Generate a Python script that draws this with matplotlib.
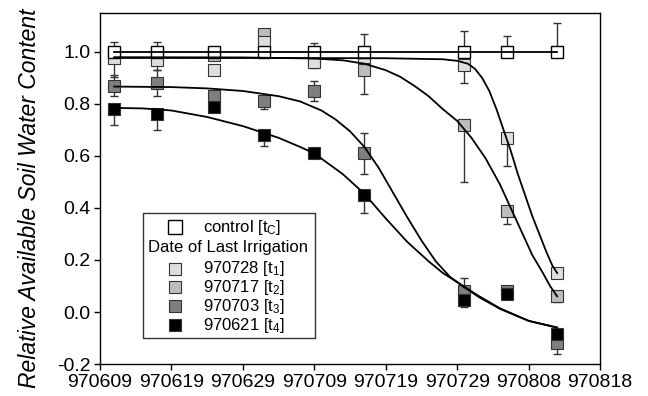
import numpy as np
import matplotlib.pyplot as plt
import matplotlib.dates as mdates
from matplotlib.patches import Rectangle

plt.rcParams['font.family'] = ['Liberation Sans', 'DejaVu Sans']
plt.rcParams['mathtext.default'] = 'regular'

# sampling dates
dates = np.array(['1997-06-11', '1997-06-17', '1997-06-25', '1997-07-02', '1997-07-09',
                  '1997-07-16', '1997-07-30', '1997-08-05', '1997-08-12'], dtype='datetime64[D]')

# measured values (relative available soil water content)
ctrl = [1.00, 1.00, 1.00, 1.00, 1.00, 1.00, 1.00, 1.00, 1.00]
ctrl_up = [0.04, 0.04, 0.02, 0.0, 0.035, 0.07, 0.08, 0.06, 0.11]
t1 = [0.975, 0.97, 0.93, 1.04, 0.96, 0.98, 0.95, 0.67, 0.15]
t1_lo = [0.07, 0.04, 0.02, 0.0, 0.02, 0.0, 0.07, 0.11, 0.0]
t2 = [0.995, 0.99, 0.99, 1.07, 0.97, 0.93, 0.72, 0.39, 0.06]
t2_lo = [0.0, 0.0, 0.0, 0.0, 0.0, 0.09, 0.22, 0.05, 0.02]
t3 = [0.87, 0.88, 0.83, 0.81, 0.85, 0.61, 0.08, 0.08, -0.12]
t3_lo = [0.04, 0.05, 0.0, 0.03, 0.04, 0.08, 0.0, 0.02, 0.04]
t3_up = [0.04, 0.05, 0.02, 0.0, 0.04, 0.08, 0.05, 0.02, 0.0]
t4 = [0.78, 0.76, 0.79, 0.68, 0.61, 0.45, 0.045, 0.07, -0.085]
t4_lo = [0.06, 0.06, 0.0, 0.04, 0.0, 0.07, 0.025, 0.0, 0.0]

# fitted curves (days after 970609)
c1_day = [2, 20, 40, 48, 50, 51.5, 52.5, 53.5, 54.5, 55.5, 56.5, 57.5, 58.5, 59.5, 60.5, 61.5, 62.5, 63.3, 64]
c1_val = [0.977, 0.977, 0.976, 0.972, 0.966, 0.955, 0.935, 0.90, 0.85, 0.78, 0.70, 0.62, 0.53, 0.45, 0.37, 0.30, 0.23, 0.18, 0.15]
c2_day = [2, 20, 30, 34, 37, 40, 42, 44, 46, 48, 50, 52, 54, 56, 57.5, 59, 60.5, 62, 63, 64]
c2_val = [0.98, 0.979, 0.975, 0.968, 0.955, 0.93, 0.905, 0.87, 0.83, 0.78, 0.735, 0.67, 0.59, 0.49, 0.40, 0.31, 0.22, 0.15, 0.10, 0.06]
c3_day = [2, 10, 15, 20, 25, 28, 31, 33, 35, 37, 39, 41, 43, 45, 47, 49, 51, 53, 56, 60, 64]
c3_val = [0.867, 0.865, 0.86, 0.85, 0.83, 0.81, 0.775, 0.74, 0.695, 0.635, 0.555, 0.46, 0.365, 0.275, 0.195, 0.135, 0.095, 0.058, 0.012, -0.034, -0.06]
c4_day = [2, 6, 10, 15, 20, 25, 28, 30, 32, 34, 37, 40, 43, 46, 48, 50, 53, 56, 60, 64]
c4_val = [0.785, 0.783, 0.775, 0.75, 0.715, 0.67, 0.635, 0.61, 0.57, 0.53, 0.455, 0.36, 0.27, 0.195, 0.15, 0.115, 0.062, 0.014, -0.034, -0.06]

ticks = np.arange(np.datetime64('1997-06-09'), np.datetime64('1997-08-19'), 10)

col = {'c': 'white', 't1': '#dedede', 't2': '#bdbdbd', 't3': '#7f7f7f', 't4': '#000000'}
edge = '#333333'

fig = plt.figure(figsize=(6.48, 3.96), dpi=100)
ax = fig.add_axes([0.1543, 0.0808, 0.7717, 0.8864])

x = mdates.date2num(dates)
d0 = mdates.date2num(np.datetime64('1997-06-09'))

ms = 8.5
eb = dict(fmt='none', ecolor='#333333', elinewidth=1.0, capsize=3, capthick=1.0, zorder=2)

ax.errorbar(x, t4, yerr=[t4_lo, np.zeros(9)], **eb)
ax.errorbar(x, t3, yerr=[t3_lo, t3_up], **eb)
ax.errorbar(x, t2, yerr=[t2_lo, np.zeros(9)], **eb)
ax.errorbar(x, t1, yerr=[t1_lo, np.zeros(9)], **eb)
ax.errorbar(x, ctrl, yerr=[np.zeros(9), ctrl_up], **eb)

ax.plot(x, t3, 's', ms=ms, mfc=col['t3'], mec=edge, mew=0.8, zorder=3)
ax.plot(x, t4, 's', ms=ms, mfc=col['t4'], mec=edge, mew=0.8, zorder=3)
ax.plot(x, t2, 's', ms=ms, mfc=col['t2'], mec=edge, mew=0.8, zorder=3)
ax.plot(x, t1, 's', ms=ms, mfc=col['t1'], mec=edge, mew=0.8, zorder=3)
ax.plot(x, ctrl, 's', ms=9, mfc=col['c'], mec='black', mew=1.0, zorder=3)

# lines
ax.plot(x, ctrl, '-', color='black', lw=1.3, zorder=4)
for dd, vv in [(c1_day, c1_val), (c2_day, c2_val), (c3_day, c3_val), (c4_day, c4_val)]:
    ax.plot(d0 + np.array(dd), vv, '-', color='black', lw=1.3, zorder=4)

ax.set_xlim(d0, mdates.date2num(np.datetime64('1997-08-18')))
ax.set_ylim(-0.2, 1.15)
ax.set_xticks(mdates.date2num(ticks))
ax.xaxis.set_major_formatter(mdates.DateFormatter('%y%m%d'))
ax.set_yticks([-0.2, 0.0, 0.2, 0.4, 0.6, 0.8, 1.0])
ax.set_yticklabels(['-0.2', '0.0', '0.2', '0.4', '0.6', '0.8', '1.0'])
ax.tick_params(direction='out', length=4, width=1, labelsize=14, pad=3)
for s in ax.spines.values():
    s.set_linewidth(1.0)

fig.text(0.045, 0.50, 'Relative Available Soil Water Content', rotation=90,
         ha='center', va='center', fontsize=16.5, style='italic')

# legend box drawn by hand
ax.add_patch(Rectangle((0.086, 0.074), 0.344, 0.356, transform=ax.transAxes,
                       fill=False, ec='#333333', lw=1.0, zorder=5))
ax.plot(0.15, 0.39, 's', ms=10, mfc='white', mec='black', mew=1.0, transform=ax.transAxes, zorder=6)
ax.text(0.206, 0.39, 'control [t$_{C}$]', transform=ax.transAxes, fontsize=12, va='center', zorder=6)
ax.text(0.096, 0.331, 'Date of Last Irrigation', transform=ax.transAxes, fontsize=12, va='center', zorder=6)
leg_rows = [(0.272, col['t1'], '970728 [t$_{1}$]'),
            (0.218, col['t2'], '970717 [t$_{2}$]'),
            (0.164, col['t3'], '970703 [t$_{3}$]'),
            (0.110, col['t4'], '970621 [t$_{4}$]')]
for yy, cc, lab in leg_rows:
    ax.plot(0.15, yy, 's', ms=8, mfc=cc, mec=edge, mew=0.8, transform=ax.transAxes, zorder=6)
    ax.text(0.206, yy, lab, transform=ax.transAxes, fontsize=12, va='center', zorder=6)

fig.savefig('out.png', dpi=100)
